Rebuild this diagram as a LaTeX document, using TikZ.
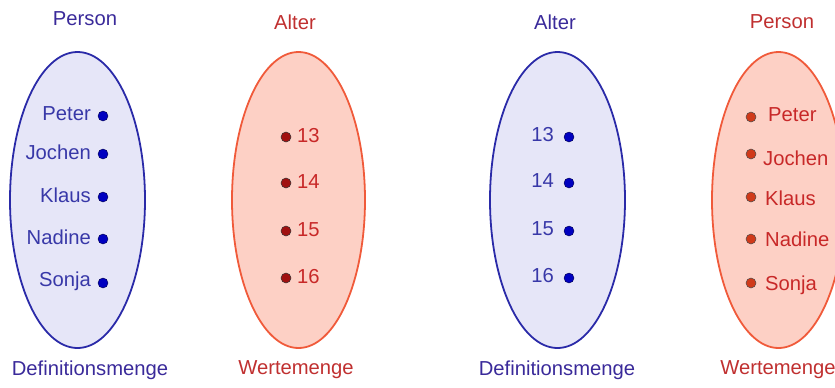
\documentclass[tikz,border=0pt]{standalone}
\usepackage{fontspec}
\setmainfont{Liberation Sans}
\definecolor{bfill}{HTML}{E6E6F8}
\definecolor{bline}{HTML}{2A2AA8}
\definecolor{btitle}{HTML}{3A2A9A}
\definecolor{btext}{HTML}{3838A8}
\definecolor{bdot}{HTML}{0000C0}
\definecolor{rfill}{HTML}{FDD0C5}
\definecolor{rline}{HTML}{F05A3A}
\definecolor{rtitle}{HTML}{C03030}
\definecolor{rtext}{HTML}{C82828}
\definecolor{rdot}{HTML}{A01010}
\definecolor{odot}{HTML}{D03A1A}
\tikzset{
  txt/.style={font=\fontsize{20.3}{23}\selectfont, inner sep=0pt},
  bset/.style={ellipse, draw=bline, fill=bfill, line width=1.8pt, minimum width=135bp, minimum height=296bp, inner sep=0pt},
  rset/.style={ellipse, draw=rline, fill=rfill, line width=1.8pt, minimum width=133bp, minimum height=296bp, inner sep=0pt},
  bpt/.style={circle, fill=bdot, draw=black!70!blue, line width=0.4pt, minimum size=10bp, inner sep=0pt},
  rpt/.style={circle, fill=rdot, draw=black!80, line width=0.5pt, minimum size=10bp, inner sep=0pt},
  opt/.style={circle, fill=odot, draw=black!70, line width=0.5pt, minimum size=10bp, inner sep=0pt},
}
\usetikzlibrary{shapes.geometric}
\begin{document}
\begin{tikzpicture}[x=1bp,y=-1bp]
\useasboundingbox (0,0) rectangle (835,387);
% ellipses
\node[bset] (e1) at (77.5,200) {};
\node[rset] (e2) at (298.5,200) {};
\node[bset] (e3) at (557.5,200) {};
\node[rset] (e4) at (778.5,200) {};
% titles
\node[txt, text=btitle] (t1) at (85,19) {Person};
\node[txt, text=rtitle] (t2) at (295,22) {Alter};
\node[txt, text=btitle] (t3) at (555,22) {Alter};
\node[txt, text=rtitle] (t4) at (782,22) {Person};
\node[txt, text=btitle] (b1) at (90,370) {Definitionsmenge};
\node[txt, text=rtitle] (b2) at (296,370) {Wertemenge};
\node[txt, text=btitle] (b3) at (557,370) {Definitionsmenge};
\node[txt, text=rtitle] (b4) at (778,370) {Wertemenge};
% set 1: persons
\foreach \n/\y/\id in {Peter/116/p1, Jochen/154/p2, Klaus/197/p3, Nadine/239/p4, Sonja/283/p5}{
  \node[bpt] (\id) at (103,\y) {};
  \node[txt, text=btext, anchor=east] (\id l) at (91,\y-2) {\n};
}
% set 2: ages
\foreach \n/\y/\id in {13/137/a1, 14/183/a2, 15/231/a3, 16/278/a4}{
  \node[rpt] (\id) at (286,\y) {};
  \node[txt, text=rtext, anchor=west] (\id l) at (297,\y-1) {\n};
}
% set 3: ages
\foreach \n/\y/\id in {13/137/c1, 14/183/c2, 15/231/c3, 16/278/c4}{
  \node[bpt] (\id) at (569,\y) {};
  \node[txt, text=btext, anchor=east] (\id l) at (554,\y-2) {\n};
}
% set 4: persons
\foreach \n/\y/\ty/\x/\id in {Peter/117/115/768/d1, Jochen/154/158/763/d2, Klaus/197/198/765/d3, Nadine/239/239/765/d4, Sonja/283/285/765/d5}{
  \node[opt] (\id) at (751,\y) {};
  \node[txt, text=rtext, anchor=west] (\id l) at (\x,\ty) {\n};
}
\end{tikzpicture}
\end{document}
